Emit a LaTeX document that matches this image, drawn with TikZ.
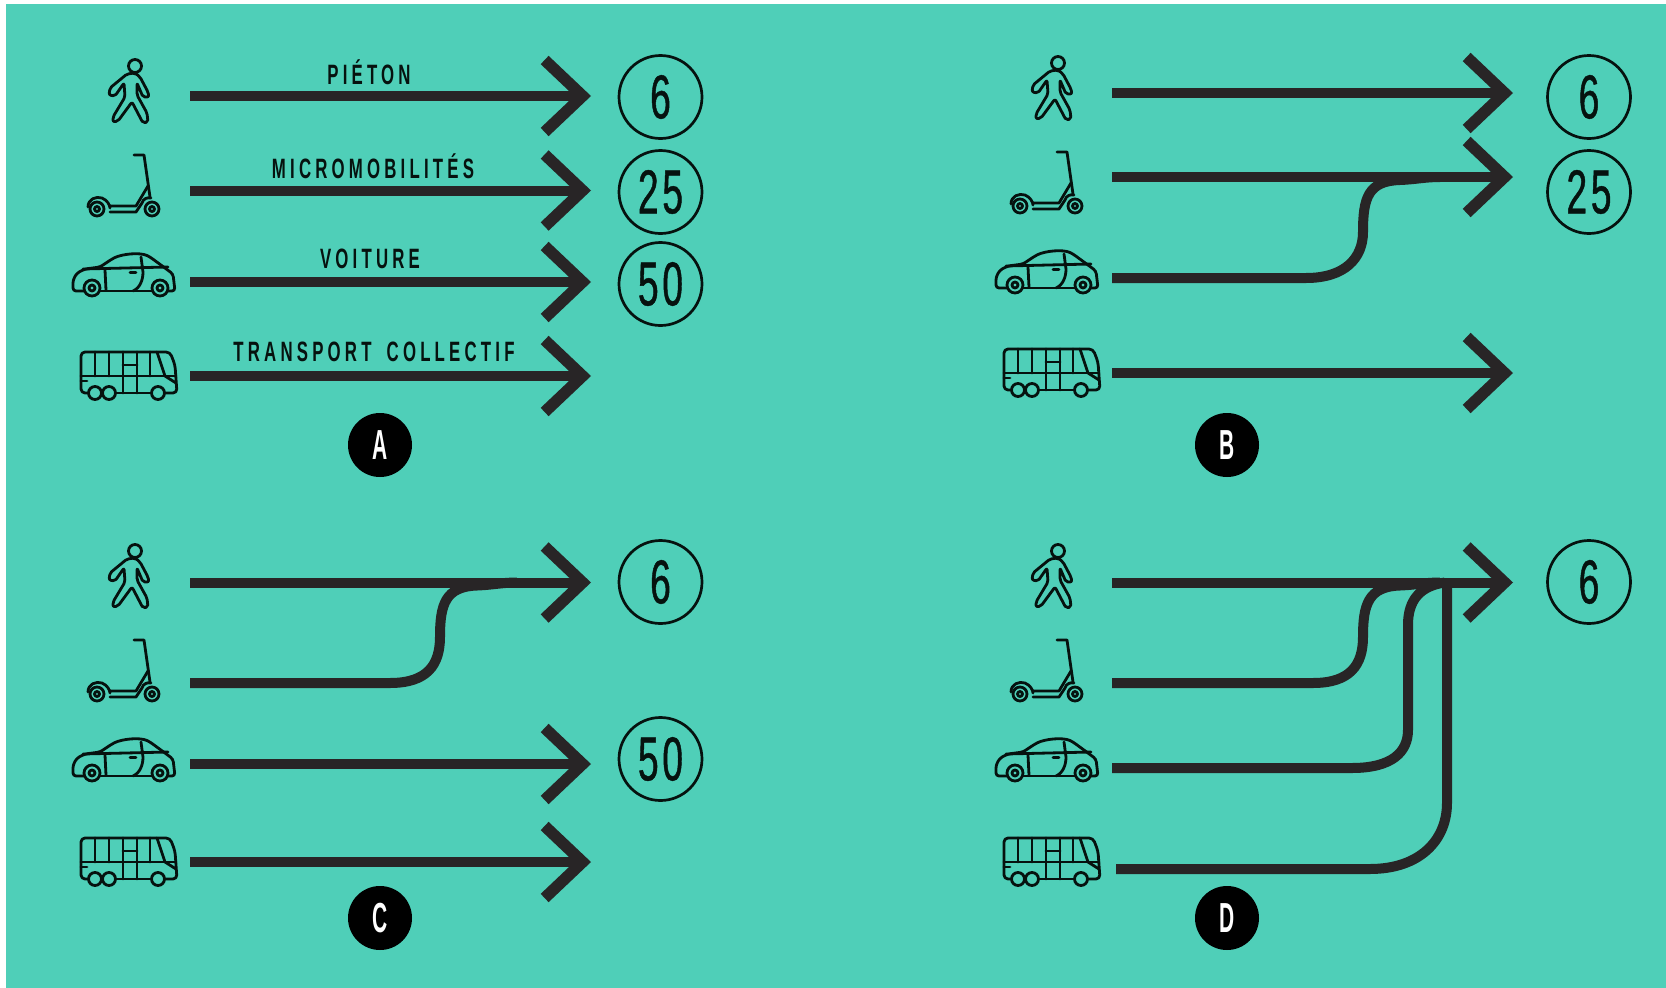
\documentclass[tikz,border=0pt]{standalone}
\usepackage{fontspec}
\usetikzlibrary{arrows.meta}
\newfontfamily\labfont[FakeStretch=0.6,LetterSpace=15,WordSpace=1.7]{Liberation Sans Bold}
\newfontfamily\numfont[FakeStretch=0.6,FakeBold=0.7,LetterSpace=6]{Liberation Sans}
\newfontfamily\badgefont[FakeStretch=0.5]{Liberation Sans Bold}
\definecolor{teal}{HTML}{4FCFB8}
\definecolor{ink}{HTML}{282526}
\definecolor{icon}{HTML}{06120F}
\tikzset{
  x=1pt,y=-1pt,
  flow/.style={draw=ink,line width=10pt,line cap=butt,-{Straight Barb[length=38pt,width=72pt,line width=11.5pt,sharp]}},
  feed/.style={draw=ink,line width=10pt,line cap=butt},
  ico/.style={draw=icon,line width=2.8pt,line join=round,line cap=round,fill=none},
  speed/.style={circle,draw=icon,line width=2.7pt,minimum size=83pt,inner sep=0pt,text=icon,font=\fontsize{62}{62}\numfont},
  panel/.style={circle,fill=black,minimum size=64pt,inner sep=0pt,text=white,font=\fontsize{42}{42}\badgefont},
  lab/.style={text=icon,inner sep=0pt,font=\fontsize{28}{28}\labfont},
  walker/.pic={
    \draw[ico] (135,66) circle (6.5);
    \draw[ico,rounded corners=2pt] (127,74) -- (110,88) -- (109,95) -- (115,96) -- (124,83) -- (125,97) -- (113,117) -- (113,122) -- (118,121) -- (132,102) -- (143,123) -- (148,122) -- (147,113) -- (137,95) -- (137,83) -- (143,97) -- (149,97) -- (148,92) -- (140,77) -- (135,73) -- cycle;
  },
  scooter/.pic={
    \draw[ico] (134,155) -- (144,155) -- (150,197);
    \draw[ico] (152,209) circle (7);
    \draw[ico] (152,209) circle (2.5);
    \draw[ico] (97,209) circle (7);
    \draw[ico] (97,209) circle (2.5);
    \draw[ico] (88,207) .. controls (88,199) and (96,196) .. (102,198) .. controls (107,200) and (110,205) .. (110,208);
    \draw[ico] (110,206) -- (136,206) -- (148,186);
    \draw[ico] (110,212) -- (136,212) -- (142,203) .. controls (143,199) and (147,197) .. (151,198);
  },
  car/.pic={
    \draw[ico,rounded corners=3pt] (84,291) -- (73,291) -- (73,280) -- (77,273) -- (85,269) -- (100,267) -- (112,259) .. controls (122,254) and (140,252) .. (150,257) -- (165,268) -- (173,274) -- (175,291) -- (168,291);
    \draw[ico] (100,291) -- (152,291);
    \draw[ico] (83,269) -- (168,267);
    \draw[ico] (105,270) -- (106,290);
    \draw[ico] (141,257) -- (143,272) .. controls (143,280) and (140,288) .. (133,291);
    \draw[ico] (130,272.5) -- (136,272.5);
    \draw[ico] (92,288) circle (8);
    \draw[ico] (92,288) circle (3);
    \draw[ico] (160,288) circle (8);
    \draw[ico] (160,288) circle (3);
  },
  bus/.pic={
    \draw[ico,rounded corners=4pt] (88,393) -- (81,393) -- (81,352) -- (170,352) -- (175,365) -- (177,393) -- (165,393);
    \draw[ico] (81,376) -- (176,376);
    \draw[ico] (116,393) -- (150,393);
    \draw[ico] (95,352) -- (95,376);
    \draw[ico] (109,352) -- (109,376);
    \draw[ico] (123,352) -- (123,393);
    \draw[ico] (137,352) -- (137,393);
    \draw[ico] (150,352) -- (150,376);
    \draw[ico] (123,365) -- (137,365);
    \draw[ico] (157,352) -- (165,376) -- (176,383);
    \draw[ico] (81,381) -- (87,381);
    \draw[ico] (95,393) circle (6.5);
    \draw[ico] (109,393) circle (6.5);
    \draw[ico] (158,393) circle (6.5);
  },
}
\begin{document}
\begin{tikzpicture}
\useasboundingbox (0,0) rectangle (1666,988);
\fill[white] (0,0) rectangle (1666,988);
\fill[teal] (6,4) rectangle (1666,988);
% icons
\pic {walker}; \pic {scooter}; \pic {car}; \pic {bus};
\pic at (923,-3) {walker}; \pic at (923,-3) {scooter}; \pic at (923,-3) {car}; \pic at (923,-3) {bus};
\pic at (0,485) {walker}; \pic at (0,485) {scooter}; \pic at (0,485) {car}; \pic at (0,486) {bus};
\pic at (923,485) {walker}; \pic at (923,485) {scooter}; \pic at (923,485) {car}; \pic at (923,486) {bus};
% speed signs
\node[speed] (a6) at (660.5,97) {6};
\node[speed] (a25) at (660.5,192) {25};
\node[speed] (a50) at (660.5,284) {50};
\node[speed] (b6) at (1589,97) {6};
\node[speed] (b25) at (1589,192) {25};
\node[speed] (c6) at (660.5,582) {6};
\node[speed] (c50) at (660.5,759) {50};
\node[speed] (d6) at (1589,582) {6};
% panel badges
\node[panel] (pa) at (380,445) {A};
\node[panel] (pb) at (1227,445) {B};
\node[panel] (pc) at (380,918) {C};
\node[panel] (pd) at (1227,918) {D};
% labels
\node[lab] (l1) at (369,72) {PIÉTON};
\node[lab] (l2) at (373,166) {MICROMOBILITÉS};
\node[lab] (l3) at (370,259) {VOITURE};
\node[lab] (l4) at (374,352) {TRANSPORT COLLECTIF};
% panel A
\coordinate (a1s) at (190,96); \coordinate (a1e) at (591,96);
\coordinate (a2s) at (190,190.5); \coordinate (a2e) at (591,190.5);
\coordinate (a3s) at (190,282); \coordinate (a3e) at (591,282);
\coordinate (a4s) at (190,376); \coordinate (a4e) at (591,376);
\draw[flow] (a1s) -- (a1e);
\draw[flow] (a2s) -- (a2e);
\draw[flow] (a3s) -- (a3e);
\draw[flow] (a4s) -- (a4e);
% panel B
\coordinate (b1s) at (1112,93); \coordinate (b1e) at (1513,93);
\coordinate (b2s) at (1112,177); \coordinate (b2e) at (1513,177);
\coordinate (b3s) at (1112,278);
\coordinate (b4s) at (1112,373); \coordinate (b4e) at (1513,373);
\coordinate (b3m) at (1440,177);
\draw[flow] (b1s) -- (b1e);
\draw[flow] (b2s) -- (b2e);
\draw[feed] (b3s) -- (1306,278) .. controls (1345,278) and (1363,258) .. (1363,232) .. controls (1363,198) and (1368,181) .. (1400,180) .. controls (1415,179.5) and (1425,177) .. (b3m);
\draw[flow] (b4s) -- (b4e);
% panel C
\coordinate (c1s) at (190,582.5); \coordinate (c1e) at (591,582.5);
\coordinate (c2s) at (190,683); \coordinate (c2m) at (517,582.5);
\coordinate (c3s) at (190,764); \coordinate (c3e) at (591,764);
\coordinate (c4s) at (190,862); \coordinate (c4e) at (591,862);
\draw[flow] (c1s) -- (c1e);
\draw[feed] (c2s) -- (390,683) .. controls (427,683) and (440,665) .. (440,637) .. controls (440,605) and (445,586.5) .. (477,585.5) .. controls (492,585) and (502,582.5) .. (c2m);
\draw[flow] (c3s) -- (c3e);
\draw[flow] (c4s) -- (c4e);
% panel D
\coordinate (d1s) at (1112,582.5); \coordinate (d1e) at (1513,582.5);
\coordinate (d2s) at (1112,683); \coordinate (d2m) at (1440,582.5);
\coordinate (d3s) at (1112,768); \coordinate (d3m) at (1445,582.5);
\coordinate (d4s) at (1116,869); \coordinate (d4m) at (1447,578);
\draw[flow] (d1s) -- (d1e);
\draw[feed] (d2s) -- (1313,683) .. controls (1350,683) and (1363,665) .. (1363,637) .. controls (1363,605) and (1368,586.5) .. (1400,585.5) .. controls (1415,585) and (1425,582.5) .. (d2m);
\draw[feed] (d3s) -- (1352,768) .. controls (1392,768) and (1408,752) .. (1408,730) -- (1408,625) .. controls (1408,600) and (1420,586) .. (d3m);
\draw[feed] (d4s) -- (1370,869) .. controls (1420,869) and (1447,840) .. (1447,803) -- (d4m);
\end{tikzpicture}
\end{document}
